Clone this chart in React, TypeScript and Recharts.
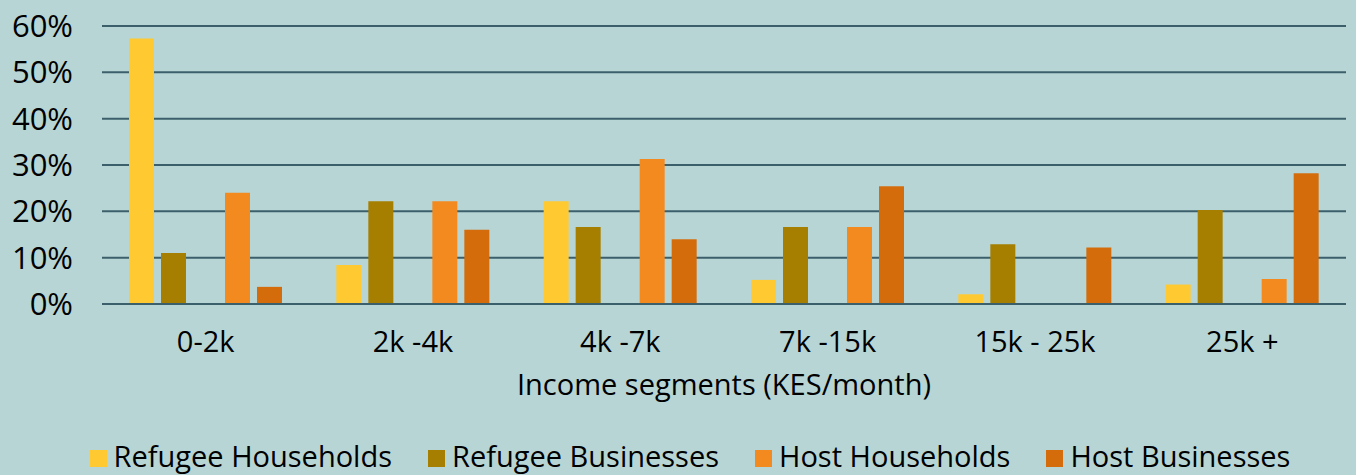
import React from "react";
import { BarChart, Bar, XAxis, YAxis, CartesianGrid, Legend } from "recharts";

const categories = ["0-2k", "2k -4k", "4k -7k", "7k -15k", "15k - 25k", "25k +"];
const refugeeHouseholds = [57.3, 8.4, 22.2, 5.2, 2.1, 4.2];
const refugeeBusinesses = [11.0, 22.2, 16.6, 16.6, 12.9, 20.3];
const hostHouseholds = [24.0, 22.2, 31.3, 16.6, 0, 5.4];
const hostBusinesses = [3.7, 16.0, 14.0, 25.4, 12.2, 28.2];
const yTicks = [0, 10, 20, 30, 40, 50, 60];

const seriesNames = ["Refugee Households", "Refugee Businesses", "Host Households", "Host Businesses"];
const seriesColors = ["#FFCA31", "#A67F00", "#F38A20", "#D46C0C"];

const data = categories.map((c, i) => ({
  name: c,
  rh: refugeeHouseholds[i],
  rb: refugeeBusinesses[i],
  hh: hostHouseholds[i],
  hb: hostBusinesses[i],
}));

const FONT = "'Open Sans', Lato, sans-serif";

const renderLegend = () => (
  <div
    style={{
      textAlign: "center",
      paddingTop: 27,
      paddingLeft: 34,
      fontFamily: FONT,
      fontSize: 29,
      lineHeight: "29px",
      color: "#000",
      whiteSpace: "nowrap",
    }}
  >
    {seriesNames.map((n, i) => (
      <span key={n} style={{ marginRight: i < 3 ? 36 : 0 }}>
        <span style={{ display: "inline-block", width: 17, height: 17, background: seriesColors[i], marginRight: 7 }} />
        {n}
      </span>
    ))}
  </div>
);

export default function App() {
  return (
    <div style={{ position: "absolute", left: 0, top: 0, width: 1356, height: 475, background: "#B7D5D5", overflow: "hidden" }}>
      <BarChart
        width={1356}
        height={475}
        data={data}
        margin={{ top: 26, right: 10, left: 0, bottom: 0 }}
        barSize={25}
        barGap={7}
        style={{ fontFamily: FONT }}
      >
        <CartesianGrid vertical={false} stroke="#3B5F6B" strokeWidth={2} />
        <XAxis
          dataKey="name"
          height={110}
          tickLine={false}
          tickSize={0}
          tickMargin={27}
          axisLine={{ stroke: "#3B5F6B", strokeWidth: 2 }}
          tick={{ fill: "#000", fontSize: 29 }}
          label={{ value: "Income segments (KES/month)", position: "insideBottom", offset: 19, fill: "#000", fontSize: 29 }}
        />
        <YAxis
          width={102}
          domain={[0, 60]}
          ticks={yTicks}
          tickFormatter={(v) => `${v}%`}
          tickLine={false}
          tickSize={0}
          tickMargin={29}
          axisLine={false}
          tick={{ fill: "#000", fontSize: 31 }}
        />
        <Legend verticalAlign="bottom" height={61} content={renderLegend} />
        <Bar dataKey="rh" name={seriesNames[0]} fill={seriesColors[0]} isAnimationActive={false} />
        <Bar dataKey="rb" name={seriesNames[1]} fill={seriesColors[1]} isAnimationActive={false} />
        <Bar dataKey="gap" name="" fill="transparent" legendType="none" isAnimationActive={false} />
        <Bar dataKey="hh" name={seriesNames[2]} fill={seriesColors[2]} isAnimationActive={false} />
        <Bar dataKey="hb" name={seriesNames[3]} fill={seriesColors[3]} isAnimationActive={false} />
      </BarChart>
    </div>
  );
}
